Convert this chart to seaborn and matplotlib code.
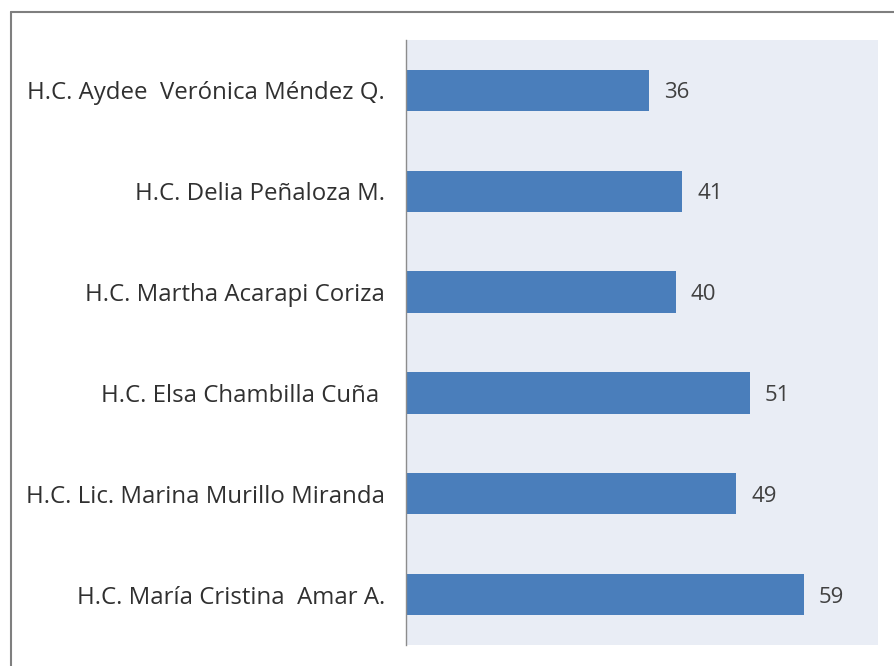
import matplotlib
matplotlib.use("Agg")
import matplotlib.pyplot as plt
import seaborn as sns
import pandas as pd
from matplotlib.lines import Line2D

# data
nombres = ['H.C. Aydee  Verónica Méndez Q.', 'H.C. Delia Peñaloza M.', 'H.C. Martha Acarapi Coriza',
           'H.C. Elsa Chambilla Cuña ', 'H.C. Lic. Marina Murillo Miranda', 'H.C. María Cristina  Amar A.']
valores = [36, 41, 40, 51, 49, 59]

df = pd.DataFrame({'Nombre': nombres, 'Valor': valores})

sns.set_style('white')
plt.rcParams['font.family'] = ['Open Sans', 'DejaVu Sans']

fig = plt.figure(figsize=(8.95, 6.66), dpi=100)
ax = fig.add_axes([406 / 895, 1 - 645 / 666, (878 - 406) / 895, (645 - 40) / 666])
ax.set_facecolor('#e9edf5')

sns.barplot(data=df, y='Nombre', x='Valor', orient='h', color='#4a7ebb', saturation=1,
            width=0.41, linewidth=0, ax=ax)

for i, v in enumerate(valores):
    ax.text(v + 2.2, i, str(v), va='center_baseline', ha='left', fontsize=16, color='#404040')

ax.set_xlim(0, 70)
ax.set_ylim(5.5, -0.5)
ax.set_xlabel('')
ax.set_ylabel('')
ax.set_xticks([])
ax.tick_params(axis='y', length=0, pad=15, labelsize=17.3, labelcolor='#303030')
for s in ['top', 'right', 'bottom']:
    ax.spines[s].set_visible(False)
ax.spines['left'].set_color('#8c8c8c')
ax.spines['left'].set_linewidth(1.0)

# outer border (top and left only, the picture is cropped)
fig.add_artist(Line2D([11 / 895, 1], [1 - 12 / 666, 1 - 12 / 666], color='#7f7f7f', lw=1.5))
fig.add_artist(Line2D([11 / 895, 11 / 895], [0, 1 - 12 / 666], color='#7f7f7f', lw=1.5))

fig.savefig('out.png', dpi=100)
